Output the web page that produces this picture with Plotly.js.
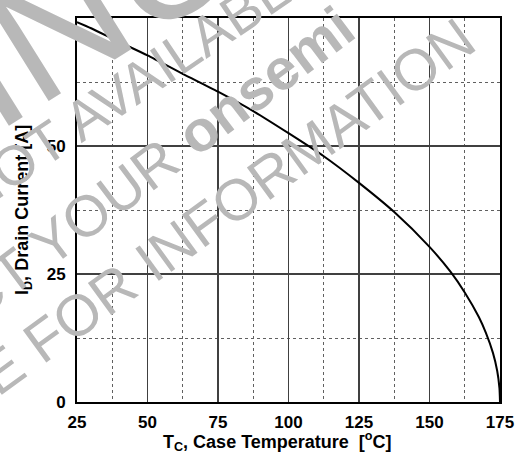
<!DOCTYPE html>
<html>
<head>
<meta charset="utf-8">
<script src="https://cdn.plot.ly/plotly-3.0.1.min.js"></script>
<style>html,body{margin:0;padding:0;background:#fff;}#chart{width:521px;height:456px;}</style>
</head>
<body>
<div id="chart"></div>
<script>
// Case temperature (°C) and maximum drain current (A)
var caseTemp = [25, 30, 40, 50, 62.5, 75, 87.5, 100, 112.5, 125, 137.5, 150, 157.5, 162.5, 167.5, 170, 172.5, 174, 174.8, 175];
var drainCurrent = [74.2, 73.0, 70.3, 67.7, 64.1, 60.6, 56.8, 52.5, 48.0, 42.8, 37.1, 30.3, 25.4, 21.4, 16.6, 13.5, 9.6, 6.1, 2.7, 0];
var xTicks = [25, 50, 75, 100, 125, 150, 175];
var yTicks = [0, 25, 50];
var xTickText = ["25", "50", "75", "100", "125", "150", "175"];
var yTickText = ["0", "25", "50"];
var xTitle = "T<sub>C</sub>, Case Temperature&nbsp; [<sup>o</sup>C]";
var yTitle = "I<sub>D</sub>, Drain Current [A]";
var watermarkLines = ["DISCONTINUED", "NOT AVAILABLE", "CT YOUR <b>onsemi</b>", "E FOR INFORMATION"];

var FONT = "Liberation Sans, Arial, sans-serif";
var wmColor = "#b8b8b8";

var trace = {
  x: caseTemp, y: drainCurrent, type: "scatter", mode: "lines",
  line: {color: "#000", width: 2, shape: "spline", smoothing: 0.6},
  hoverinfo: "skip"
};

function px2paper(px, py) { return {x: (px - 77) / 423, y: (402 - py) / 384}; }

var wmSpec = [
  {t: watermarkLines[0], cx: -140, cy: 147, size: 175, ang: -32},
  {t: watermarkLines[1], cx: 138, cy: 82, size: 56, ang: -34},
  {t: watermarkLines[2], cx: 155, cy: 163, size: 58, ang: -37},
  {t: watermarkLines[3], cx: 226, cy: 206, size: 58, ang: -36}
];
var annotations = wmSpec.map(function (w) {
  var p = px2paper(w.cx, w.cy);
  return {xref: "paper", yref: "paper", x: p.x, y: p.y, xanchor: "center", yanchor: "middle",
    text: w.t, showarrow: false, textangle: w.ang,
    font: {family: FONT, size: w.size, color: wmColor}};
});

var tX = px2paper(277, 441), tY = px2paper(23, 210);
annotations.unshift(
  {xref: "paper", yref: "paper", x: tX.x, y: tX.y, xanchor: "center", yanchor: "middle",
   text: xTitle, showarrow: false, font: {family: FONT, size: 18, color: "#000", weight: "bold"}},
  {xref: "paper", yref: "paper", x: tY.x, y: tY.y, xanchor: "center", yanchor: "middle",
   text: yTitle, showarrow: false, textangle: -90, font: {family: FONT, size: 18, color: "#000", weight: "bold"}}
);

var layout = {
  width: 521, height: 456,
  margin: {l: 77, r: 21, t: 18, b: 54},
  paper_bgcolor: "#fff", plot_bgcolor: "#fff",
  showlegend: false,
  font: {family: FONT, color: "#000"},
  xaxis: {
    range: [25, 175], tickvals: xTicks, ticktext: xTickText,
    showline: true, mirror: true, linecolor: "#000", linewidth: 2,
    showgrid: true, gridcolor: "#404040", gridwidth: 1.5,
    zeroline: false, ticks: "outside", ticklen: 4, tickcolor: "rgba(0,0,0,0)",
    tickfont: {family: FONT, size: 17, color: "#000", weight: "bold"},
    minor: {dtick: 12.5, tick0: 25, showgrid: true, gridcolor: "#606060", griddash: "dot", gridwidth: 1, ticks: ""}
  },
  yaxis: {
    range: [0, 75], tickvals: yTicks, ticktext: yTickText,
    showline: true, mirror: true, linecolor: "#000", linewidth: 2,
    showgrid: true, gridcolor: "#404040", gridwidth: 1.5,
    zeroline: false, ticks: "outside", ticklen: 6, tickcolor: "rgba(0,0,0,0)",
    tickfont: {family: FONT, size: 17, color: "#000", weight: "bold"},
    minor: {dtick: 12.5, tick0: 0, showgrid: true, gridcolor: "#606060", griddash: "dot", gridwidth: 1, ticks: ""}
  },
  annotations: annotations
};

Plotly.newPlot("chart", [trace], layout, {displayModeBar: false, staticPlot: true});
</script>
</body>
</html>
